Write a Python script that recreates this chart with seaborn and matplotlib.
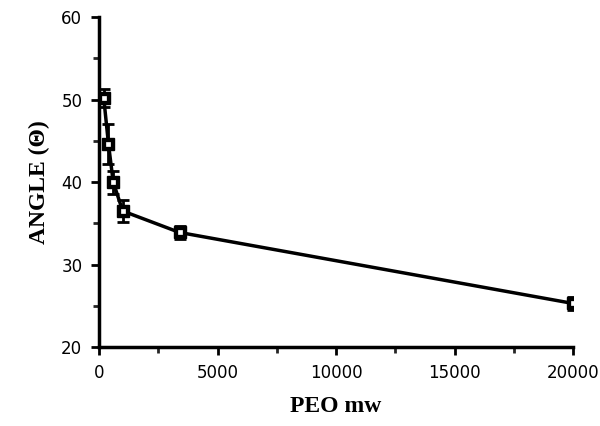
import numpy as np
import pandas as pd
import matplotlib
matplotlib.use("Agg")
import matplotlib.pyplot as plt
import seaborn as sns
from matplotlib.ticker import MultipleLocator

# PEO molecular weight vs contact angle
peo_mw = [200, 400, 600, 1000, 3400, 20000]
angle = [50.2, 44.6, 40.0, 36.5, 33.9, 25.3]
angle_err = [1.1, 2.4, 1.4, 1.3, 0.8, 0.8]

df = pd.DataFrame({"PEO mw": peo_mw, "angle": angle, "err": angle_err})

sns.set_style("ticks")

fig = plt.figure(figsize=(6, 4.26), dpi=100)
ax = fig.add_axes([0.165, 0.185, 0.79, 0.775])

sns.lineplot(data=df, x="PEO mw", y="angle", color="black", linewidth=2.5, ax=ax)
ax.errorbar(df["PEO mw"], df["angle"], yerr=df["err"], fmt="none",
            ecolor="black", elinewidth=2, capsize=4, capthick=2)
# filled square with a small open centre
ax.plot(df["PEO mw"], df["angle"], linestyle="none", marker="s", markersize=8,
        markerfacecolor="black", markeredgecolor="black")
ax.plot(df["PEO mw"], df["angle"], linestyle="none", marker="s", markersize=3,
        markerfacecolor="white", markeredgecolor="white", markeredgewidth=0.5)

ax.set_xlim(0, 20000)
ax.set_ylim(20, 60)
ax.xaxis.set_major_locator(MultipleLocator(5000))
ax.xaxis.set_minor_locator(MultipleLocator(2500))
ax.yaxis.set_major_locator(MultipleLocator(10))
ax.yaxis.set_minor_locator(MultipleLocator(5))

for side in ["top", "right"]:
    ax.spines[side].set_visible(False)
for side in ["left", "bottom"]:
    ax.spines[side].set_linewidth(2.5)
    ax.spines[side].set_color("black")

ax.tick_params(which="major", length=6, width=2, labelsize=12,
               colors="black", pad=6)
ax.tick_params(which="minor", length=4, width=2)

ax.set_xlabel("PEO mw", fontsize=17, fontweight="bold", color="black",
              fontfamily="Liberation Serif", labelpad=10)
ax.set_ylabel("ANGLE (\u0398)", fontsize=17, fontweight="bold", color="black",
              fontfamily="Liberation Serif", labelpad=8)

fig.savefig("out.png", dpi=100, facecolor="white")
